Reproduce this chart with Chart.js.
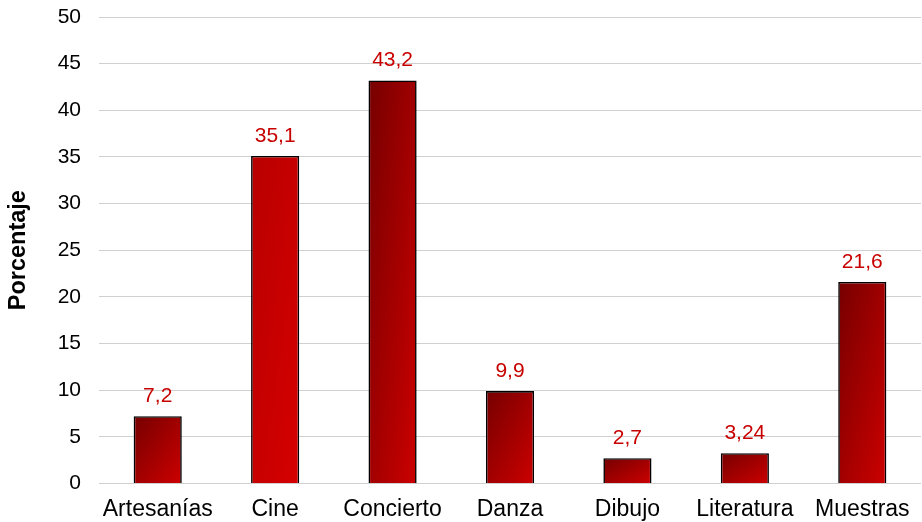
<!DOCTYPE html>
<html>
<head>
<meta charset="utf-8">
<script src="https://cdn.jsdelivr.net/npm/chart.js@4.4.1/dist/chart.umd.min.js"></script>
<style>
  html, body { margin: 0; padding: 0; background: #ffffff; }
  #wrap { width: 922px; height: 522px; position: relative; }
</style>
</head>
<body>
<div id="wrap"><canvas id="c" width="922" height="522"></canvas></div>
<script>
const categories = ["Artesanías", "Cine", "Concierto", "Danza", "Dibujo", "Literatura", "Muestras"];
const values = [7.2, 35.1, 43.2, 9.9, 2.7, 3.24, 21.6];
const yTicks = [0, 5, 10, 15, 20, 25, 30, 35, 40, 45, 50];
const axisTitle = "Porcentaje";

const FONT = "'Liberation Sans', Arial, sans-serif";
const BAR_PCT = 0.41;

function barFill(ctx) {
  const chart = ctx.chart;
  const xs = chart.scales.x, ys = chart.scales.y;
  const i = ctx.dataIndex;
  const isCine = categories[i] === "Cine";
  const dark = isCine ? "#b80000" : "#760000";
  const bright = isCine ? "#d60000" : "#cc0000";
  if (!xs || !ys || !chart.chartArea || i === undefined) return bright;
  const v = values[i];
  const cx = xs.getPixelForValue(i);
  const w = (xs.width / categories.length) * BAR_PCT;
  const x0 = cx - w / 2;
  const y0 = ys.getPixelForValue(v);
  const h = ys.getPixelForValue(0) - y0;
  if (!isFinite(x0) || !isFinite(y0) || h <= 0) return bright;
  const k = 2 * w * h / (h * h + w * w);
  const g = chart.ctx.createLinearGradient(x0, y0, x0 + h * k, y0 + w * k);
  g.addColorStop(0, dark);
  g.addColorStop(1, bright);
  return g;
}

const valueLabels = {
  id: "valueLabels",
  afterDatasetsDraw(chart) {
    const ctx = chart.ctx;
    const meta = chart.getDatasetMeta(0);
    ctx.save();
    ctx.font = "21px " + FONT;
    ctx.fillStyle = "#c80000";
    ctx.textAlign = "center";
    ctx.textBaseline = "alphabetic";
    meta.data.forEach((el, i) => {
      const txt = String(values[i]).replace(".", ",");
      ctx.fillText(txt, el.x, el.y - 14);
    });
    ctx.restore();
  }
};

new Chart(document.getElementById("c"), {
  type: "bar",
  data: {
    labels: categories,
    datasets: [{
      data: values,
      backgroundColor: barFill,
      borderColor: "#000000",
      borderWidth: 1.6,
      barPercentage: BAR_PCT,
      categoryPercentage: 1.0
    }]
  },
  options: {
    responsive: false,
    animation: false,
    devicePixelRatio: 1,
    layout: { padding: { top: 0, right: 1, bottom: -13, left: 0 } },
    plugins: {
      legend: { display: false },
      tooltip: { enabled: false }
    },
    scales: {
      x: {
        grid: { display: false, drawTicks: false },
        border: { display: false },
        ticks: { color: "#000000", font: { family: FONT, size: 23 }, padding: 12, maxRotation: 0, autoSkip: false }
      },
      y: {
        min: 0,
        max: 50,
        afterBuildTicks(scale) { scale.ticks = yTicks.map(v => ({ value: v })); },
        afterFit(scale) { scale.width = 99; scale.paddingTop = 17; scale.paddingBottom = 0; },
        grid: { color: "#d0d0d0", lineWidth: 1, drawTicks: false },
        border: { display: false },
        ticks: { color: "#000000", font: { family: FONT, size: 21 }, padding: 18 },
        title: { display: true, text: axisTitle, color: "#000000", font: { family: FONT, size: 23.5, weight: "bold" }, padding: { top: 4, bottom: 4 } }
      }
    }
  },
  plugins: [valueLabels]
});
</script>
</body>
</html>
